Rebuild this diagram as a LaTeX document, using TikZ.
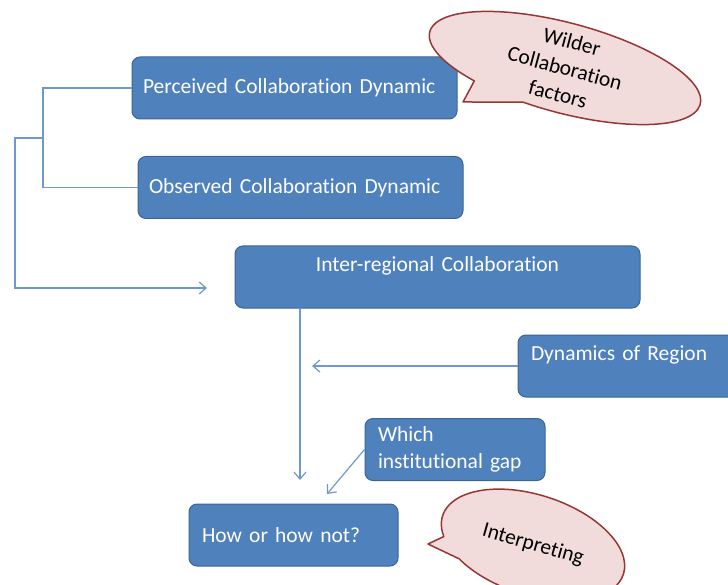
\documentclass[tikz,border=0pt]{standalone}
\usepackage{fontspec}
\setmainfont{Carlito}[Ligatures=NoCommon,RawFeature={-liga;-clig;-calt},WordSpace=0.7]
\usetikzlibrary{arrows.meta}

\definecolor{boxfill}{HTML}{4F81BD}
\definecolor{boxline}{HTML}{3A6595}
\definecolor{linkblue}{HTML}{6F97D0}
\definecolor{bubblefill}{HTML}{F2DCDB}
\definecolor{bubbleline}{HTML}{953735}

\tikzset{
  box/.style={rectangle,rounded corners=8pt,fill=boxfill,draw=boxline,line width=1pt,text=white,
    font=\fontsize{21.5}{27}\selectfont,inner xsep=13pt,inner ysep=0pt,minimum height=62pt,align=left},
  bubble/.style={fill=bubblefill,draw=bubbleline,line width=1.5pt,line join=round},
  bubbletext/.style={font=\fontsize{21.5}{27}\selectfont,align=center},
  link/.style={draw=linkblue,line width=1.2pt},
  arrow/.style={link,-{Straight Barb[length=7pt,width=12pt]}}
}

\begin{document}
\begin{tikzpicture}[x=1pt,y=-1pt]
\clip (0,0) rectangle (728,585);
\node[box,text width=303pt,inner xsep=11pt] (perceived) at (294.5,88) {Perceived Collaboration Dynamic};
\node[box,text width=303pt,inner xsep=11pt] (observed) at (300.5,187.5) {Observed Collaboration Dynamic};
\node[box,text width=379pt,align=center] (interreg) at (437.5,277) {\strut Inter-regional Collaboration\\[-6pt]\strut};
\node[box,text width=214pt] (dynamics) at (638,366) {\strut Dynamics of Region\\[-6pt]\strut};
\node[box,text width=154pt] (gap) at (455,449.5) {Which\\institutional gap};
\node[box,text width=183pt] (hownot) at (293.5,535) {How or how not?};
\begin{scope}[shift={(565,68)},rotate=-15,y=1pt]
\draw[bubble] (257:140 and 45) arc[start angle=257,end angle=593,x radius=140,y radius=45]
  -- (-89.7,-59.2) -- cycle;
\node[bubbletext,rotate=-15] (wilder) at (0,0) {Wilder\\Collaboration\\factors};
\end{scope}
\begin{scope}[shift={(533,545)},rotate=-18,y=1pt]
\draw[bubble] (226:95 and 50) arc[start angle=226,end angle=563,x radius=95,y radius=50]
  -- (-100.2,-31.5) -- cycle;
\node[bubbletext,rotate=-16] (interp) at (0,0) {Interpreting};
\end{scope}
\coordinate (fork) at (43,138);
\coordinate (rim) at (15,138);
\coordinate (entry) at (207,288);
\coordinate (drop) at (300,480);
\coordinate (merge) at (312,366);
\coordinate (inlet) at (327,494);
\draw[link] (perceived.west) -| (fork) |- (observed.west);
\draw[arrow] (fork) -- (rim) |- (entry);
\draw[arrow] (drop |- interreg.south) -- (drop);
\draw[arrow] (dynamics.west) -- (merge);
\draw[arrow] (gap.west) -- (inlet);
\end{tikzpicture}
\end{document}
